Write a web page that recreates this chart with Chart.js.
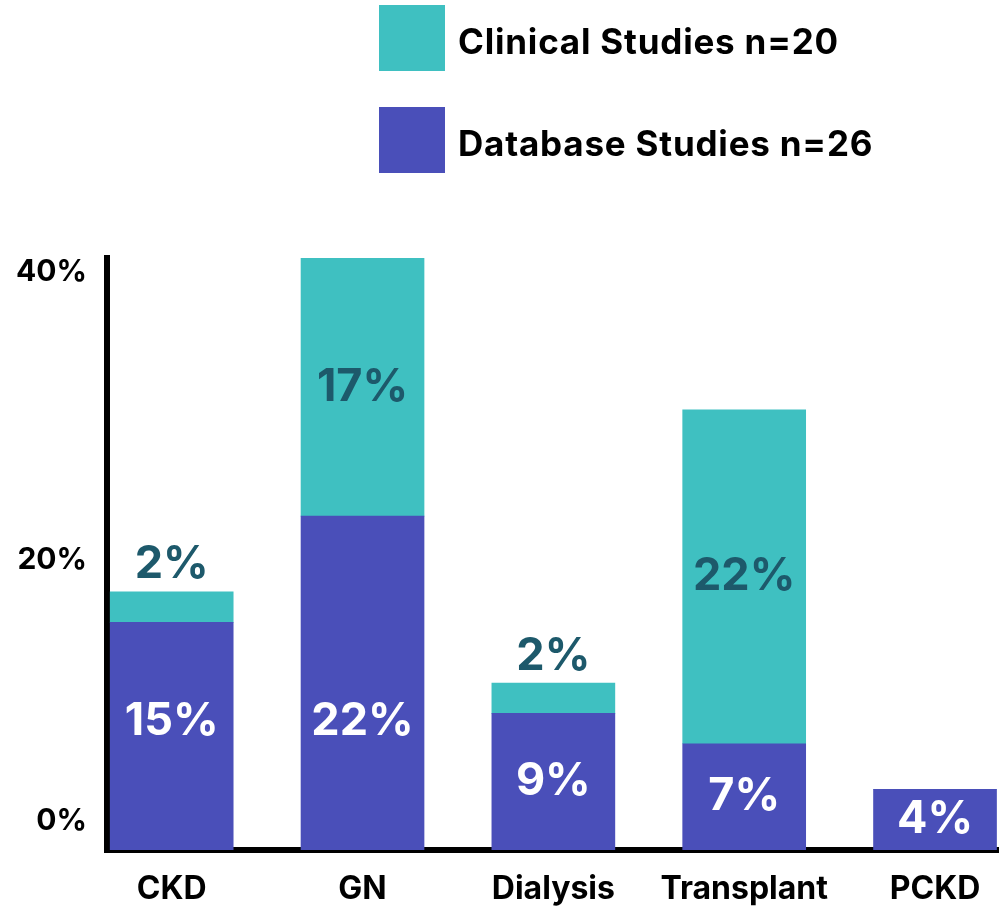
<!DOCTYPE html>
<html>
<head>
<meta charset="utf-8">
<title>Studies by area</title>
<script src="https://cdn.jsdelivr.net/npm/chart.js@4.4.1/dist/chart.umd.min.js"></script>
<style>
  html, body { margin: 0; padding: 0; background: #fff; }
  #wrap { position: relative; width: 1006px; height: 916px; }
  #legend {
    position: absolute; left: 379px; top: 5px;
    margin: 0; padding: 0; list-style: none;
    font-family: Inter, sans-serif; font-weight: 700; font-size: 35px;
    letter-spacing: 0.8px; color: #000;
  }
  #legend li { display: flex; align-items: center; height: 66px; margin-bottom: 36px; white-space: nowrap; }
  #legend li span.txt { position: relative; top: 3px; }
  #legend .box { display: inline-block; width: 66px; height: 66px; margin-right: 13px; }
</style>
</head>
<body>
<div id="wrap">
  <canvas id="studyChart" width="1006" height="916"></canvas>
  <ul id="legend"></ul>
</div>
<script>
/* ========= DATA ========= */

const categories = ["CKD", "GN", "Dialysis", "Transplant", "PCKD"];
const databaseValues = [15, 22, 9, 7, 4];
const clinicalValues = [2, 17, 2, 22, 0];
const yTickValues = [0, 20, 40];
const seriesNames = ["Database Studies n=26", "Clinical Studies n=20"];

/* ========= HTML LEGEND (clinical on top) ========= */

const htmlLegend = {
    id: "htmlLegend",
    afterUpdate(chart) {
        const list = document.getElementById("legend");
        list.innerHTML = "";
        const items = chart.options.plugins.legend.labels.generateLabels(chart).reverse();
        items.forEach(item => {
            const li = document.createElement("li");
            const box = document.createElement("span");
            box.className = "box";
            box.style.background = item.fillStyle;
            const txt = document.createElement("span");
            txt.className = "txt";
            txt.textContent = item.text;
            li.appendChild(box);
            li.appendChild(txt);
            list.appendChild(li);
        });
    }
};

/* ========= PERCENT LABELS ON BARS ========= */

const barLabels = {
    id: "barLabels",
    afterDatasetsDraw(chart) {
        const c = chart.ctx;
        c.save();
        c.font = "700 45px Inter";
        c.textAlign = "center";
        c.textBaseline = "middle";
        chart.data.datasets.forEach((ds, di) => {
            chart.getDatasetMeta(di).data.forEach((bar, i) => {
                const value = ds.data[i].y;
                if (!value) return;
                const { x, y, base } = bar.getProps(["x", "y", "base"], true);
                const h = base - y;
                let ly;
                if (di === 0) {
                    ly = h > 200 ? base - 129 : base - h / 2;
                } else {
                    ly = h < 50 ? y - 27 : y + h / 2;
                }
                c.fillStyle = ds.labelColor;
                c.fillText(value + "%", x, ly);
            });
        });
        c.restore();
    }
};

/* ========= CHART ========= */

const ctx = document.getElementById("studyChart");

new Chart(ctx, {
    type: "bar",
    data: {
        datasets: [
            {
                label: seriesNames[0],
                data: databaseValues.map((v, i) => ({ x: i, y: v })),
                backgroundColor: "#4a4fb9",
                labelColor: "#ffffff",
                barThickness: 123
            },
            {
                label: seriesNames[1],
                data: clinicalValues.map((v, i) => ({ x: i, y: v })),
                backgroundColor: "#3fc0c1",
                labelColor: "#1d596b",
                barThickness: 123
            }
        ]
    },
    options: {
        responsive: false,
        animation: false,
        layout: {
            padding: { top: 258, right: 8, bottom: 0, left: 0 }
        },
        plugins: {
            legend: { display: false },
            tooltip: { enabled: false }
        },
        scales: {
            x: {
                type: "linear",
                stacked: true,
                offset: false,
                min: -0.339,
                max: 4.33,
                grid: { display: false, drawTicks: false },
                border: { color: "#000", width: 6 },
                afterBuildTicks: axis => {
                    axis.ticks = categories.map((c, i) => ({ value: i }));
                },
                afterFit: axis => {
                    axis.height = 66;
                    axis.paddingLeft = 0;
                    axis.paddingRight = 0;
                },
                ticks: {
                    autoSkip: false,
                    maxRotation: 0,
                    padding: 20,
                    color: "#000",
                    font: { family: "Inter", size: 32, weight: "700" },
                    callback: value => categories[value]
                }
            },
            y: {
                stacked: true,
                min: 0,
                max: 39,
                grid: { display: false, drawTicks: false },
                border: { color: "#000", width: 6 },
                afterBuildTicks: axis => {
                    axis.ticks = yTickValues.map(v => ({ value: v }));
                },
                afterFit: axis => {
                    axis.width = 107;
                    axis.paddingTop = 0;
                    axis.paddingBottom = 0;
                },
                ticks: {
                    padding: 20,
                    color: "#000",
                    font: context => ({
                        family: "Inter",
                        size: 30,
                        weight: "700",
                        lineHeight: context.tick && context.tick.value === 20 ? "28px" : "58px"
                    }),
                    callback: value => value === 0 ? [value + "%", ""] : ["", value + "%"]
                }
            }
        }
    },
    plugins: [htmlLegend, barLabels]
});
</script>
</body>
</html>
